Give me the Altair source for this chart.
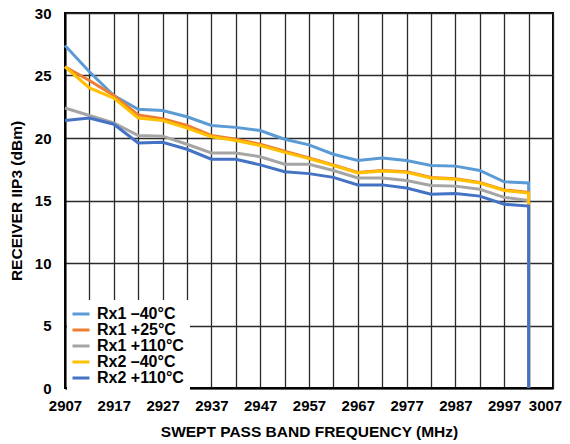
import altair as alt
import pandas as pd

freqs = [2907, 2912, 2917, 2922, 2927, 2932, 2937, 2942, 2947, 2952,
         2957, 2962, 2967, 2972, 2977, 2982, 2987, 2992, 2997, 3002]

series_names = ["Rx1 –40°C", "Rx1 +25°C", "Rx1 +110°C", "Rx2 –40°C", "Rx2 +110°C"]
series_colors = ["#5B9BD5", "#ED7D31", "#A5A5A5", "#FFC000", "#4472C4"]

rx1_m40 = [27.4, 25.3, 23.4, 22.3, 22.2, 21.7, 21.0, 20.85, 20.6, 19.9,
           19.45, 18.7, 18.2, 18.4, 18.2, 17.8, 17.75, 17.4, 16.5, 16.4]
rx1_p25 = [25.7, 24.6, 23.4, 21.85, 21.55, 21.0, 20.2, 19.9, 19.5, 18.95,
           18.4, 17.85, 17.25, 17.4, 17.3, 16.85, 16.75, 16.45, 15.85, 15.65]
rx1_p110 = [22.4, 21.8, 21.2, 20.2, 20.15, 19.5, 18.8, 18.8, 18.5, 17.9,
            17.9, 17.4, 16.8, 16.8, 16.6, 16.2, 16.15, 15.9, 15.25, 15.0]
rx2_m40 = [25.7, 24.0, 23.2, 21.6, 21.4, 20.8, 20.1, 19.8, 19.4, 18.85,
           18.35, 17.8, 17.2, 17.35, 17.25, 16.8, 16.7, 16.4, 15.8, 15.6]
rx2_p110 = [21.4, 21.6, 21.1, 19.6, 19.65, 19.1, 18.3, 18.3, 17.85, 17.3,
            17.15, 16.85, 16.25, 16.25, 16.0, 15.5, 15.55, 15.35, 14.7, 14.55]

# each trace ends with a vertical drop to 0 at the last frequency
drop_freq = 3002
drop_value = 0

x_ticks = [2907, 2912, 2917, 2922, 2927, 2932, 2937, 2942, 2947, 2952, 2957,
           2962, 2967, 2972, 2977, 2982, 2987, 2992, 2997, 3002, 3007]
y_ticks = [0, 5, 10, 15, 20, 25, 30]

rows = []
for name, vals in zip(series_names, [rx1_m40, rx1_p25, rx1_p110, rx2_m40, rx2_p110]):
    for i, (f, v) in enumerate(zip(freqs, vals)):
        rows.append({"series": name, "freq": f, "iip3": v, "idx": i})
    rows.append({"series": name, "freq": drop_freq, "iip3": drop_value, "idx": len(freqs)})
df = pd.DataFrame(rows)

FONT = "Liberation Sans"

color = alt.Color(
    "series:N",
    scale=alt.Scale(domain=series_names, range=series_colors),
    sort=series_names,
    legend=alt.Legend(
        orient="none", legendX=2, legendY=287, title=None,
        fillColor="white", padding=6,
        symbolType="M-1.7,0L1.7,0", symbolStrokeWidth=3, symbolSize=100,
        labelFont=FONT, labelFontSize=16, labelFontWeight="bold",
        labelColor="black", rowPadding=-2, labelOffset=8,
    ),
)

x = alt.X(
    "freq:Q",
    scale=alt.Scale(domain=[2907, 3007], nice=False, zero=False),
    axis=alt.Axis(
        values=x_ticks, format="d", labelOverlap=False, labelFlush=False,
        labelExpr="(datum.value - 2907) % 10 == 0 ? datum.label : ''",
        labelOffset={"condition": {"test": "datum.value == 3007", "value": -8}, "value": 0},
        title="SWEPT PASS BAND FREQUENCY (MHz)",
        ticks=False, labelPadding=10, titlePadding=11,
    ),
)
y = alt.Y(
    "iip3:Q",
    scale=alt.Scale(domain=[0, 30], nice=False),
    axis=alt.Axis(
        values=y_ticks, format="d", title="RECEIVER IIP3 (dBm)",
        ticks=False, labelPadding=14, titlePadding=10,
    ),
)

base = alt.Chart(df).mark_line(strokeWidth=3).encode(
    x=x, y=y, color=color, order="idx:Q"
)

layers = [base.transform_filter(alt.datum.series == s) for s in series_names]

chart = alt.layer(*layers).properties(
    width=488, height=375,
    autosize=alt.AutoSizeParams(type="none"),
    padding={"left": 57, "top": 5, "right": 9, "bottom": 55},
).configure_view(
    stroke="black", strokeWidth=2
).configure_axis(
    grid=True, gridColor="#2a2a2a", gridWidth=1.3,
    domainColor="black", domainWidth=2,
    labelFont=FONT, labelFontSize=15, labelFontWeight="bold", labelColor="black",
    titleFont=FONT, titleFontSize=15.5, titleFontWeight="bold", titleColor="black",
)

chart.save("out.html", embed_options={"renderer": "svg", "actions": False})
